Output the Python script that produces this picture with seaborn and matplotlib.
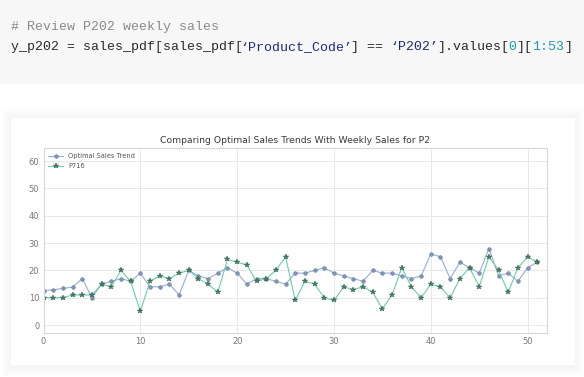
import matplotlib
matplotlib.use('Agg')
import matplotlib.pyplot as plt
import seaborn as sns
import pandas as pd
from matplotlib.patches import Rectangle

# ==============================
# Data
# ==============================
weeks = list(range(52))
optimal_trend = [12.6, 12.9, 13.4, 13.9, 17, 10, 15, 16, 17, 16,
                 19, 14, 14, 15, 11, 20, 18, 17, 19, 21,
                 19, 15, 17, 17, 16, 15, 19, 19, 20, 21,
                 19, 18, 17, 16, 20, 19, 19, 18, 17, 18,
                 26, 25, 17, 23, 21, 19, 28, 18, 19, 16,
                 21, 23]
p716_sales = [10, 10, 10, 11, 11, 11, 15, 14, 20, 16,
              5, 16, 18, 17, 19, 20, 17, 15, 12, 24,
              23, 22, 16, 17, 20, 25, 9, 16, 15, 10,
              9, 14, 13, 14, 12, 6, 11, 21, 14, 10,
              15, 14, 10, 17, 21, 14, 25, 20, 12, 21,
              25, 23]
x_ticks = [0, 10, 20, 30, 40, 50]
y_ticks = [0, 10, 20, 30, 40, 50, 60]

title = "Comparing Optimal Sales Trends With Weekly Sales for P2"
code_comment = "# Review P202 weekly sales"
# code line split into coloured tokens
code_tokens = [
    ("y_p202 = sales_pdf[sales_pdf[", "#2b2b2b"),
    ("\u2018Product_Code\u2019", "#1c2b78"),
    ("] == ", "#2b2b2b"),
    ("\u2018P202\u2019", "#1c2b78"),
    ("].values[", "#2b2b2b"),
    ("0", "#1f9bb0"),
    ("][", "#2b2b2b"),
    ("1:53", "#1f9bb0"),
    ("]", "#2b2b2b"),
]

df = pd.DataFrame({"week": weeks, "optimal": optimal_trend, "p716": p716_sales})

# ==============================
# Figure / page background
# ==============================
W, H = 584, 377
sns.set_style("whitegrid")
plt.rcParams['font.family'] = ['DejaVu Sans']

fig = plt.figure(figsize=(W / 100, H / 100), dpi=100)
fig.patch.set_facecolor("white")

def px(x, y):
    # pixel (from top-left) -> figure fraction
    return x / W, 1 - y / H

# code cell
fig.add_artist(Rectangle((0, 1 - 84 / H), 1, 84 / H, transform=fig.transFigure,
                         facecolor="#f7f7f7", edgecolor="none", zorder=0))
char_w = 7.9
fx, fy = px(11, 27)
fig.text(fx, fy, code_comment, family="Liberation Mono", fontsize=9.5,
         color="#8a8a8a", va="center", ha="left")
col = 0
for tok, c in code_tokens:
    fx, fy = px(11 + col * char_w, 47)
    fig.text(fx, fy, tok, family="Liberation Mono", fontsize=9.5,
             color=c, va="center", ha="left")
    col += len(tok)

# card with soft shadow
cx0, cy0, cx1, cy1 = 11, 118, 575, 365
for g in range(1, 11):
    x0, y1 = px(cx0 - g, cy1 + g + 2)
    fig.add_artist(Rectangle((x0, y1), (cx1 - cx0 + 2 * g) / W, (cy1 - cy0 + 2 * g + 2) / H,
                             transform=fig.transFigure, facecolor="black",
                             edgecolor="none", alpha=0.0035, zorder=0.5))
x0, y1 = px(cx0, cy1)
fig.add_artist(Rectangle((x0, y1), (cx1 - cx0) / W, (cy1 - cy0) / H,
                         transform=fig.transFigure, facecolor="white",
                         edgecolor="none", zorder=0.6))

# ==============================
# Chart
# ==============================
l, b = px(43.5, 332.7)
r, t = px(547, 148.3)
ax = fig.add_axes([l, b, r - l, t - b], zorder=2)
ax.set_facecolor("white")

sns.lineplot(data=df, x="week", y="optimal", ax=ax, color="#93aed3", linewidth=0.8,
             marker="o", markersize=2.6, markerfacecolor="#8098bf",
             markeredgecolor="#5f7399", markeredgewidth=0.4,
             label="Optimal Sales Trend")
sns.lineplot(data=df, x="week", y="p716", ax=ax, color="#6ccda7",
             linewidth=0.8, marker="*", markersize=4.3, markerfacecolor="#457f63",
             markeredgecolor="#2a5742", markeredgewidth=0.3,
             label="P716")

ax.set_xlim(0, 52)
ax.set_ylim(-2.8, 64.7)
ax.set_xticks(x_ticks)
ax.set_yticks(y_ticks)
ax.set_xlabel("")
ax.set_ylabel("")
ax.grid(True, color="#e8e8e8", linewidth=0.7)
for s in ax.spines.values():
    s.set_visible(True)
    s.set_color("#d6d6d6")
    s.set_linewidth(0.8)
ax.tick_params(axis="both", labelsize=6, colors="#777777", length=0, pad=3)
ax.set_title(title, fontsize=6.7, color="#3a3a3a", pad=4)

leg = ax.legend(loc="upper left", frameon=False, fontsize=4.8, handlelength=2.2,
                borderaxespad=0.3, labelspacing=0.6)
for txt in leg.get_texts():
    txt.set_color("#555555")

fig.savefig("out.png", dpi=100, facecolor=fig.get_facecolor())
